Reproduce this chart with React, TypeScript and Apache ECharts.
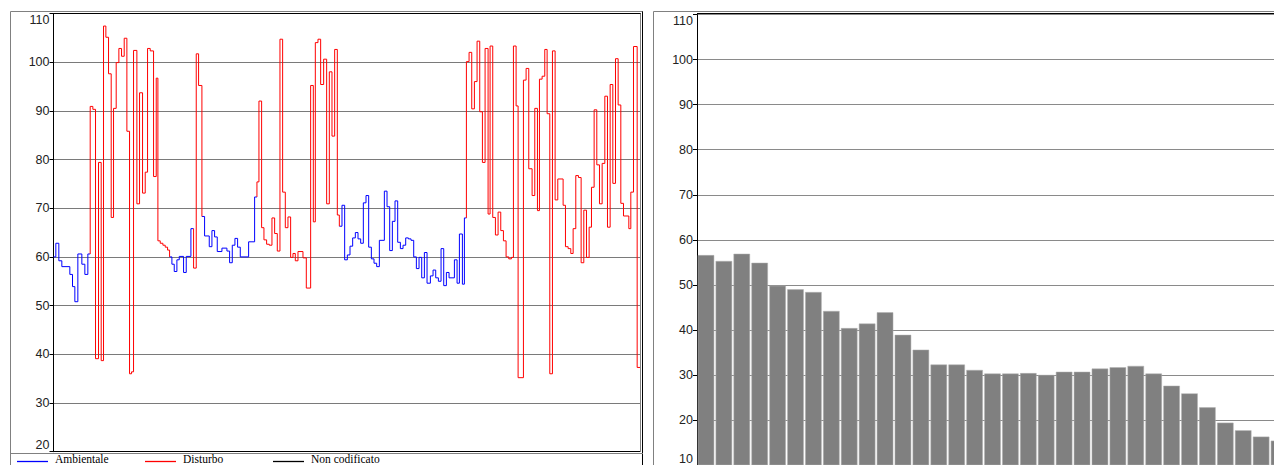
import React, { useEffect, useRef } from "react";
import * as echarts from "echarts";

// ---- Left chart: time history (step levels), t in arbitrary time units ----
const END_TIME = 1760;
const stepTimes = [
  0, 7, 16, 25, 49, 57, 64, 73, 85, 94, 103,
  110, 118, 126, 135, 143, 150, 157, 165, 173, 180, 188, 196, 204, 212, 220, 228, 234, 240, 250, 258, 267, 275, 282, 290, 300, 308, 313, 320, 328, 335, 342,
  348, 355, 362, 370, 377, 390, 398, 412,
  420, 428, 435,
  445, 453, 467, 475, 483, 491, 505, 520, 528, 536, 544, 552, 560, 585, 603,
  610, 616, 624, 631, 639, 647, 655, 663, 671, 679, 687, 695, 703, 711, 718, 725, 733, 748, 758, 771, 779, 785, 793, 801, 810, 819, 827, 835, 843, 851,
  857, 865, 873, 881, 889, 897, 905, 913, 921, 929, 937, 945, 953, 961, 969, 977, 992, 1000, 1008, 1016, 1024, 1032, 1040, 1048, 1056, 1064, 1072, 1080, 1088, 1096, 1104, 1112, 1120, 1130, 1138, 1146, 1154, 1162, 1170, 1178, 1186, 1202, 1210, 1217, 1226, 1232,
  1238, 1246, 1254, 1262, 1270, 1278, 1286, 1294, 1303, 1309, 1317, 1325, 1333, 1341, 1349, 1357, 1365, 1373, 1379, 1387, 1393, 1409, 1417, 1425, 1435, 1443, 1451, 1457, 1465, 1473, 1480, 1488, 1496, 1504, 1512, 1528, 1535, 1543, 1551, 1558, 1566, 1574, 1582, 1590, 1598, 1606, 1613, 1621, 1629, 1637, 1645, 1653, 1661, 1669, 1677, 1685, 1693, 1701, 1709, 1725, 1731, 1739, 1750,
];
const stepLevels = [
  60.0, 62.8, 59.2, 58.0, 56.4, 53.9, 50.8, 60.6, 58.5, 56.4, 60.6,
  90.9, 90.3, 39.1, 79.4, 38.7, 107.4, 105.1, 97.6, 68.1, 90.5, 99.9, 102.8, 101.2, 104.9, 85.8, 36.0, 36.4, 102.4, 70.9, 93.7, 73.1, 77.4, 102.8, 102.3, 76.5, 96.7, 63.3, 62.8, 62.4, 62.0, 61.4,
  60.0, 58.5, 57.0, 59.4, 60.1, 56.8, 60.1, 65.8,
  57.7, 101.7, 95.2,
  68.3, 64.3, 62.1, 65.4, 64.1, 61.1, 61.8, 61.2, 58.8, 62.4, 63.8, 62.0, 60.0, 63.1, 72.3,
  75.4, 92.0, 66.0, 63.5, 62.6, 62.4, 68.0, 64.8, 61.2, 104.7, 73.3, 66.0, 68.2, 59.9, 60.7, 59.2, 61.1, 59.8, 53.6, 95.2, 67.2, 104.0, 104.7, 95.4, 100.6, 70.9, 98.0, 84.8, 102.6, 68.6,
  66.3, 70.6, 59.4, 60.4, 62.2, 63.9, 65.0, 63.7, 62.8, 71.1, 72.6, 62.0, 59.6, 58.7, 58.0, 63.4, 73.5, 70.3, 61.3, 67.3, 71.5, 63.0, 61.7, 62.4, 63.9, 63.7, 63.4, 60.0, 57.6, 59.9, 55.7, 60.9, 54.6, 56.1, 57.3, 55.7, 55.0, 61.7, 54.1, 56.8, 55.7, 59.4, 54.6, 64.7, 54.4, 68.0,
  100.1, 102.0, 90.4, 96.0, 104.3, 89.8, 79.4, 102.8, 68.8, 103.3, 68.1, 64.5, 69.2, 65.4, 63.3, 60.0, 59.6, 59.9, 103.3, 91.0, 35.2, 96.3, 98.7, 78.1, 72.6, 90.5, 69.5, 96.5, 97.1, 102.6, 89.4, 36.0, 102.3, 71.7, 76.0, 70.6, 62.1, 61.7, 60.7, 65.8, 76.7, 76.3, 58.8, 69.6, 59.9, 66.1, 74.3, 90.2, 78.9, 70.9, 79.2, 93.0, 66.1, 95.4, 75.1, 100.7, 91.2, 71.0, 68.4, 65.8, 73.3, 103.2, 37.3,
];
// run lengths of codes: A = Ambientale, D = Disturbo
const codeRuns: [string, number][] = [
  ["A", 11], ["D", 31], ["A", 8], ["D", 3], ["A", 15], ["D", 30], ["A", 46], ["D", 63],
];

const leftTicks = [20, 30, 40, 50, 60, 70, 80, 90, 100, 110];

// ---- Right chart: bars ----
const bandLabels = [
  "1", "2", "3", "4", "5", "6", "7", "8", "9", "10", "11", "12", "13", "14", "15", "16", "17",
  "18", "19", "20", "21", "22", "23", "24", "25", "26", "27", "28", "29", "30", "31", "32", "33",
];
const bandValues = [
  56.6, 55.3, 56.9, 54.9, 49.8, 49.0, 48.4, 44.2, 40.4, 41.4, 43.9, 38.9, 35.6, 32.3, 32.3, 31.1, 30.3,
  30.3, 30.4, 30.0, 30.7, 30.7, 31.4, 31.7, 32.0, 30.3, 27.6, 25.9, 22.8, 19.4, 17.7, 16.3, 15.4,
];

const legendItems = [
  { name: "Ambientale", color: "#0000ff" },
  { name: "Disturbo", color: "#ff0000" },
  { name: "Non codificato", color: "#000000" },
];

function expandCodes(): string[] {
  const out: string[] = [];
  codeRuns.forEach(([c, n]) => {
    for (let i = 0; i < n; i++) out.push(c);
  });
  return out;
}

// transitions between codes are drawn by the "D" series (as in the reference)
function buildPath(code: string, codes: string[], drawTransitions: boolean) {
  const out: any[] = [];
  for (let i = 0; i < stepTimes.length; i++) {
    if (codes[i] !== code) continue;
    const t0 = stepTimes[i];
    const t1 = i + 1 < stepTimes.length ? stepTimes[i + 1] : END_TIME;
    const prevSame = i > 0 && codes[i - 1] === code;
    if (!prevSame) {
      if (out.length) out.push([t0, null]);
      if (i > 0 && drawTransitions) out.push([t0, stepLevels[i - 1]]);
    }
    out.push([t0, stepLevels[i]]);
    out.push([t1, stepLevels[i]]);
    if (drawTransitions && i + 1 < stepTimes.length && codes[i + 1] !== code) {
      out.push([t1, stepLevels[i + 1]]);
    }
  }
  return out;
}

export default function App() {
  const ref = useRef<HTMLDivElement>(null);
  useEffect(() => {
    if (!ref.current) return;
    const chart = echarts.init(ref.current, undefined, { renderer: "svg" });
    const codes = expandCodes();
    const labelStyle = {
      fontFamily: "Liberation Sans, Arial, sans-serif",
      fontSize: 12.5,
      color: "#222",
    };
    const gray = "#808080";
    const graphics: any[] = [];
    const line = (x1: number, y1: number, x2: number, y2: number, color: string, w = 1) =>
      graphics.push({
        type: "line",
        silent: true,
        z: 100,
        shape: { x1, y1, x2, y2 },
        style: { stroke: color, lineWidth: w },
      });
    // left panel frame
    line(10.5, 11.5, 643, 11.5, gray);
    line(10.5, 11.5, 10.5, 470, gray);
    line(642.5, 11.5, 642.5, 470, "#000");
    line(53.5, 13.5, 641, 13.5, "#000");
    line(640.5, 13.5, 640.5, 452, gray);
    line(10.5, 453.5, 643, 453.5, gray);
    // right panel frame
    line(653.5, 11.5, 1280, 11.5, gray);
    line(653.5, 11.5, 653.5, 470, gray);
    line(697, 13.5, 1280, 13.5, "#000");
    // legend
    legendItems.forEach((it, i) => {
      const x0 = 17 + i * 128;
      line(x0, 461.5, x0 + 31, 461.5, it.color, 1.3);
      graphics.push({
        type: "text",
        silent: true,
        z: 100,
        x: x0 + 38,
        y: 459.2,
        style: {
          text: it.name,
          fill: "#000",
          font: "11.5px 'Liberation Serif', 'Times New Roman', serif",
          verticalAlign: "middle",
          align: "left",
        },
      });
    });

    chart.setOption({
      animation: false,
      backgroundColor: "#fff",
      grid: [
        {
          left: 53.5,
          top: 13.4,
          right: 1274 - 640.5,
          bottom: 465 - 451.7,
          containLabel: false,
          outerBoundsMode: "none",
        },
        {
          left: 697,
          top: 14.6,
          right: -14,
          bottom: 0,
          containLabel: false,
          outerBoundsMode: "none",
        },
      ],
      xAxis: [
        {
          type: "value",
          gridIndex: 0,
          min: 0,
          max: END_TIME,
          axisLine: { show: true, lineStyle: { color: "#000", width: 1 } },
          axisTick: { show: false },
          axisLabel: { show: false },
          splitLine: { show: false },
        },
        {
          type: "category",
          gridIndex: 1,
          data: bandLabels,
          axisLine: { show: true, lineStyle: { color: "#000" } },
          axisTick: { show: false },
          axisLabel: { show: false },
        },
      ],
      yAxis: [
        {
          type: "value",
          gridIndex: 0,
          min: leftTicks[0],
          max: leftTicks[leftTicks.length - 1],
          interval: 10,
          axisLine: { show: true, lineStyle: { color: "#000", width: 1 } },
          axisTick: { show: true, length: 4, lineStyle: { color: "#000" } },
          axisLabel: {
            ...labelStyle,
            margin: 4,
            verticalAlignMaxLabel: "top",
            verticalAlignMinLabel: "bottom",
          },
          splitLine: { show: true, lineStyle: { color: "#7a7a7a", width: 1 } },
        },
        {
          type: "value",
          gridIndex: 1,
          min: 10,
          max: 110,
          interval: 10,
          axisLine: { show: true, lineStyle: { color: "#000", width: 1 } },
          axisTick: { show: true, length: 4, lineStyle: { color: "#000" } },
          axisLabel: {
            ...labelStyle,
            margin: 4,
            verticalAlignMaxLabel: "top",
            verticalAlignMinLabel: "bottom",
          },
          splitLine: { show: true, lineStyle: { color: "#8a8a8a", width: 1 } },
        },
      ],
      series: [
        {
          name: "Ambientale",
          type: "line",
          xAxisIndex: 0,
          yAxisIndex: 0,
          data: buildPath("A", codes, false),
          showSymbol: false,
          connectNulls: false,
          lineStyle: { color: "#0000ff", width: 1 },
          itemStyle: { color: "#0000ff" },
          z: 3,
        },
        {
          name: "Disturbo",
          type: "line",
          xAxisIndex: 0,
          yAxisIndex: 0,
          data: buildPath("D", codes, true),
          showSymbol: false,
          connectNulls: false,
          lineStyle: { color: "#ff0000", width: 1 },
          itemStyle: { color: "#ff0000" },
          z: 4,
        },
        {
          name: "Livelli",
          type: "bar",
          xAxisIndex: 1,
          yAxisIndex: 1,
          data: bandValues,
          barCategoryGap: "8%",
          itemStyle: { color: "#808080", borderColor: "#b0b0b0", borderWidth: 0.5 },
        },
      ],
      graphic: graphics,
    });
    return () => chart.dispose();
  }, []);
  return (
    <div
      ref={ref}
      style={{ position: "absolute", left: 0, top: 0, width: 1274, height: 465, background: "#fff" }}
    />
  );
}
